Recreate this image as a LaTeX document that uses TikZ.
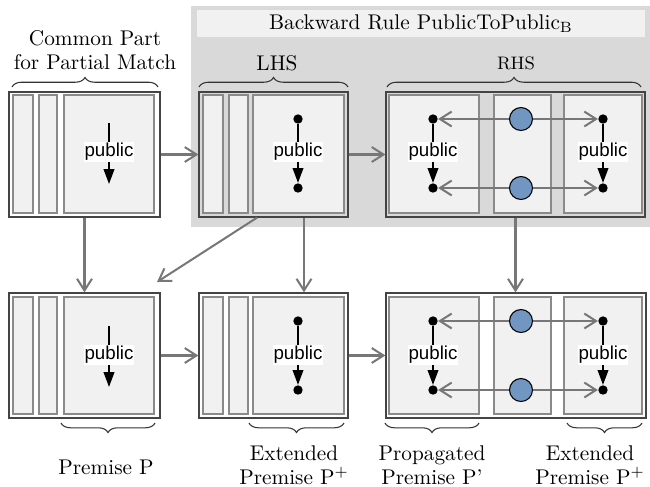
\documentclass[tikz,border=0pt]{standalone}
\usepackage{fontspec}
\newfontfamily\pubfont{Liberation Sans}
\usetikzlibrary{arrows.meta,decorations.pathreplacing,fit,calc}
\definecolor{bgray}{HTML}{D9D9D9}
\definecolor{lightf}{HTML}{F1F1F1}
\definecolor{sborder}{HTML}{8A8A8A}
\definecolor{conng}{HTML}{777777}
\definecolor{boxb}{HTML}{444444}
\definecolor{blueC}{RGB}{114,150,194}
\begin{document}
\begin{tikzpicture}[x=0.47pt,y=-0.47pt,
 outerbox/.style={draw=boxb, line width=0.6pt, inner sep=0pt},
 stripe/.style={draw=sborder, fill=lightf, line width=0.7pt, inner sep=0pt},
 conn/.style={draw=conng, line width=0.95pt, -{Straight Barb[length=5.5pt,width=7pt]}},
 blk/.style={draw=black, line width=0.8pt, -{Triangle[length=7pt,width=5pt]}},
 dotn/.style={circle, fill=black, inner sep=0pt, minimum size=4.4pt},
 bluen/.style={circle, draw=black, line width=0.5pt, fill=blueC, inner sep=0pt, minimum size=10.8pt},
 pub/.style={fill=white, inner xsep=0.4pt, inner ysep=0.8pt, font=\pubfont\fontsize{8.8}{10}\selectfont},
 lbl/.style={align=center, inner sep=0pt, font=\fontsize{10}{11.3}\selectfont},
 brc/.style={draw=black!80, line width=0.5pt, decorate, decoration={brace, amplitude=4.5pt}},
]
\useasboundingbox (0,0) rectangle (650,486);
% rule background
\fill[bgray] (191,6) rectangle (650,227);
\node[fill=lightf, inner sep=0pt, fit={(197,10)(645,37)}] (T) {};
\node[lbl] (Tt) at (T.center) {Backward Rule PublicToPublic$_{\mathrm{B}}$};

% ---------- boxes ----------
\foreach \nm/\xa/\xb/\ya/\yb in {A/9/160/92/217, B/199/348/92/217, C/386/645/92/217,
                                 D/9/160/293/418, E/199/348/293/418, F/386/646/293/418}{
  \node[outerbox, fit={(\xa,\ya)(\xb,\yb)}] (\nm) {};
}
\foreach \nm/\ya/\yb in {A/95/213, D/297/414}{
  \node[stripe, fit={(13,\ya)(33,\yb)}] (\nm1) {};
  \node[stripe, fit={(39,\ya)(57,\yb)}] (\nm2) {};
  \node[stripe, fit={(64,\ya)(154,\yb)}] (\nm3) {};
}
\foreach \nm/\ya/\yb in {B/95/213, E/297/414}{
  \node[stripe, fit={(203,\ya)(223,\yb)}] (\nm1) {};
  \node[stripe, fit={(229,\ya)(248,\yb)}] (\nm2) {};
  \node[stripe, fit={(253,\ya)(344,\yb)}] (\nm3) {};
}
\foreach \nm/\ya/\yb in {C/95/213, F/297/414}{
  \node[stripe, fit={(389,\ya)(479,\yb)}] (\nm1) {};
  \node[stripe, fit={(494,\ya)(551,\yb)}] (\nm2) {};
  \node[stripe, fit={(564,\ya)(642,\yb)}] (\nm3) {};
}

% ---------- box contents ----------
% A and D: public arrow without dots
\coordinate (a0) at (109,123); \coordinate (a1) at (109,184);
\draw[blk] (a0) -- (a1);
\node[pub] (pA) at (109,152) {public};
\coordinate (d0) at (109,326); \coordinate (d1) at (109,387);
\draw[blk] (d0) -- (d1);
\node[pub] (pD) at (109,355) {public};

% B and E: dots
\foreach \nm/\ya/\yb/\yl in {B/119/188/152, E/321/390/355}{
  \node[dotn] (\nm t) at (298,\ya) {};
  \node[dotn] (\nm b) at (298,\yb) {};
  \draw[blk] (\nm t) -- (\nm b);
  \node[pub] (\nm p) at (298,\yl) {public};
}

% C and F: two columns and blue circles
\foreach \nm/\ya/\yb/\yl in {C/119/188/152, F/321/390/355}{
  \node[dotn] (\nm lt) at (433,\ya) {};
  \node[dotn] (\nm lb) at (433,\yb) {};
  \node[dotn] (\nm rt) at (603,\ya) {};
  \node[dotn] (\nm rb) at (603,\yb) {};
  \node[bluen] (\nm ct) at (521,\ya) {};
  \node[bluen] (\nm cb) at (521,\yb) {};
  \draw[conn] (\nm ct) -- (\nm lt);
  \draw[conn] (\nm ct) -- (\nm rt);
  \draw[conn] (\nm cb) -- (\nm lb);
  \draw[conn] (\nm cb) -- (\nm rb);
  \draw[blk] (\nm lt) -- (\nm lb);
  \draw[blk] (\nm rt) -- (\nm rb);
  \node[pub] (\nm pl) at (433,\yl) {public};
  \node[pub] (\nm pr) at (603,\yl) {public};
}

% ---------- connectors ----------
\draw[conn] (A) -- (B);
\draw[conn] (B) -- (C);
\draw[conn] (D) -- (E);
\draw[conn] (E) -- (F);
\draw[conn] (A) -- (D);
\coordinate (bx) at (304,0);
\draw[conn] (B.south -| bx) -- (E.north -| bx);
\draw[conn] (C.south) -- (C.south |- F.north);
\coordinate (dg) at (257,0);
\coordinate (dgEnd) at (157,282);
\draw[conn] (B.south -| dg) -- (dgEnd);

% ---------- braces and labels ----------
\draw[brc] (12,87) -- (158,87);
\draw[brc] (199,87) -- (348,87);
\draw[brc] (387,87) -- (641,87);
\draw[brc] (155,423) -- (61,423);
\draw[brc] (344,423) -- (249,423);
\draw[brc] (479,423) -- (385,423);
\draw[brc] (642,423) -- (567,423);

\node[lbl] (tCommon) at (95,50) {Common Part\\for Partial Match};
\node[lbl] (tLHS) at (277,63) {LHS};
\node[lbl, font=\fontsize{8.5}{10}\selectfont] (tRHS) at (516,63) {RHS};
\node[lbl] (tP) at (106,467) {Premise P};
\node[lbl] (tEP1) at (294,465) {Extended\\Premise P$^+$};
\node[lbl] (tPP) at (432,465) {Propagated\\Premise P'};
\node[lbl] (tEP2) at (590,465) {Extended\\Premise P$^+$};
\end{tikzpicture}
\end{document}
